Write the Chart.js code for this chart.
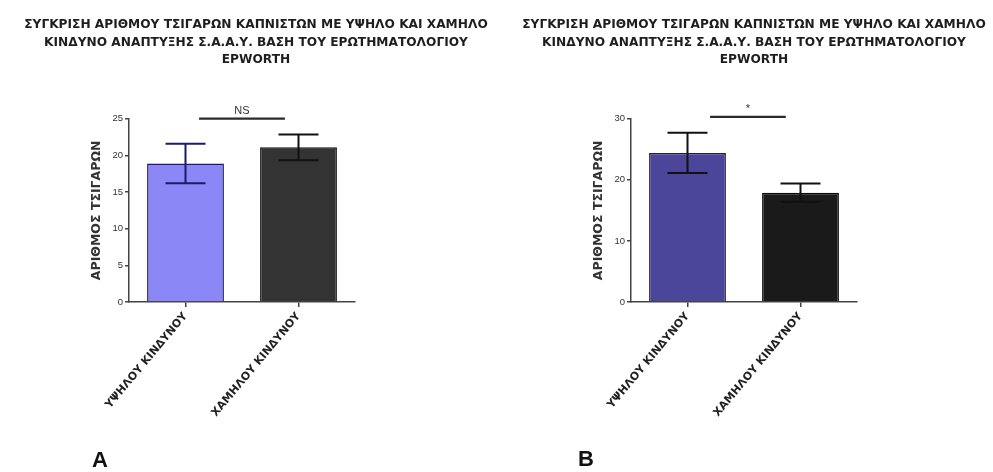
<!DOCTYPE html>
<html>
<head>
<meta charset="utf-8">
<script src="https://cdn.jsdelivr.net/npm/chart.js@4.4.1/dist/chart.umd.min.js"></script>
<style>
  html, body { margin: 0; padding: 0; background: #ffffff; }
  body { width: 993px; height: 472px; position: relative; overflow: hidden; font-family: "Liberation Sans", Arial, sans-serif; }
  .wrap { position: absolute; top: 0; height: 472px; }
  #wa { left: 8px; width: 496px; }
  #wb { left: 515px; width: 478px; }
  .panel { position: absolute; font-weight: bold; font-size: 22px; color: #111; }
  #la { left: 92px; top: 447px; }
  #lb { left: 578px; top: 446px; }
</style>
</head>
<body>
<div class="wrap" id="wa"><canvas id="ca" width="496" height="472"></canvas></div>
<div class="wrap" id="wb"><canvas id="cb" width="478" height="472"></canvas></div>
<div class="panel" id="la">A</div>
<div class="panel" id="lb">B</div>
<script>
// ---- data ----
const titleLines = [
  "ΣΥΓΚΡΙΣΗ ΑΡΙΘΜΟΥ ΤΣΙΓΑΡΩΝ ΚΑΠΝΙΣΤΩΝ ΜΕ ΥΨΗΛΟ ΚΑΙ ΧΑΜΗΛΟ",
  "ΚΙΝΔΥΝΟ ΑΝΑΠΤΥΞΗΣ Σ.Α.Α.Υ. ΒΑΣΗ ΤΟΥ ΕΡΩΤΗΜΑΤΟΛΟΓΙΟΥ",
  "EPWORTH"
];
const yTitle = "ΑΡΙΘΜΟΣ ΤΣΙΓΑΡΩΝ";
const categories = ["ΥΨΗΛΟΥ ΚΙΝΔΥΝΟΥ", "ΧΑΜΗΛΟΥ ΚΙΝΔΥΝΟΥ"];

const meansA = [18.9, 21.1];
const semA   = [2.7, 1.75];
const yMaxA = 25, yStepA = 5;
const sigLabelA = "NS";
const sigLevelA = 25;

const meansB = [24.4, 17.9];
const semB   = [3.3, 1.5];
const yMaxB = 30, yStepB = 10;
const sigLabelB = "*";
const sigLevelB = 30.3;

const FONT = '"DejaVu Sans", "Liberation Sans", Arial, sans-serif';

// ---- plugins ----
const errorBars = {
  id: 'errorBars',
  afterDatasetsDraw(chart, args, opts) {
    const ctx = chart.ctx, y = chart.scales.y;
    const meta = chart.getDatasetMeta(0);
    const ds = chart.data.datasets[0];
    ctx.save();
    meta.data.forEach((bar, i) => {
      const m = ds.data[i], e = opts.errors[i];
      const yt = y.getPixelForValue(m + e), yb = y.getPixelForValue(m - e);
      ctx.strokeStyle = opts.colors[i];
      ctx.lineWidth = 2;
      ctx.beginPath();
      ctx.moveTo(bar.x, yt); ctx.lineTo(bar.x, yb);
      ctx.moveTo(bar.x - 20, yt); ctx.lineTo(bar.x + 20, yt);
      ctx.moveTo(bar.x - 20, yb); ctx.lineTo(bar.x + 20, yb);
      ctx.stroke();
    });
    // significance bracket
    const x = chart.scales.x;
    const sy = y.getPixelForValue(opts.sigLevel);
    const x1 = x.getPixelForValue(opts.sigFrom), x2 = x.getPixelForValue(opts.sigTo);
    ctx.strokeStyle = '#2a2a2a';
    ctx.lineWidth = 2.2;
    ctx.beginPath(); ctx.moveTo(x1, sy); ctx.lineTo(x2, sy); ctx.stroke();
    ctx.fillStyle = '#333';
    ctx.font = '11px "Liberation Sans", Arial, sans-serif';
    ctx.textAlign = 'center'; ctx.textBaseline = 'bottom';
    ctx.fillText(opts.sigLabel, (x1 + x2) / 2, sy - 2);
    ctx.restore();
  }
};

function makeChart(id, means, sems, yMax, yStep, fills, borders, errColors, sig, leftW, rightW) {
  return new Chart(document.getElementById(id), {
    type: 'bar',
    data: {
      labels: categories,
      datasets: [{
        data: means,
        backgroundColor: fills,
        borderColor: borders,
        borderWidth: 1.5,
        barPercentage: 0.68,
        categoryPercentage: 1.0
      }]
    },
    options: {
      responsive: false,
      animation: false,
      layout: { padding: 0 },
      plugins: {
        legend: { display: false },
        tooltip: { enabled: false },
        title: {
          display: true,
          text: titleLines,
          color: '#1e1e1e',
          font: { family: FONT, size: 12.2, weight: 'bold', lineHeight: 1.44 },
          padding: { top: 16, bottom: 50 }
        },
        errorBars: { errors: sems, colors: errColors, sigLevel: sig.level, sigLabel: sig.label, sigFrom: sig.from, sigTo: sig.to }
      },
      scales: {
        x: {
          grid: { drawOnChartArea: false, drawTicks: true, tickLength: 5, offset: false, color: '#444', lineWidth: 1.5 },
          border: { color: '#444', width: 1.5 },
          ticks: {
            minRotation: 50, maxRotation: 50, padding: 3, color: '#222',
            font: { family: FONT, size: 11, weight: 'bold' }
          },
          afterFit(s) { s.height = 170; }
        },
        y: {
          min: 0, max: yMax,
          grid: { drawOnChartArea: false, drawTicks: true, tickLength: 4, color: '#444', lineWidth: 1.5 },
          border: { color: '#444', width: 1.5 },
          ticks: { stepSize: yStep, padding: 2, color: '#333', font: { family: '"Liberation Sans", Arial, sans-serif', size: 9.5 } },
          title: {
            display: true, text: yTitle, color: '#333',
            font: { family: FONT, size: 12.5, weight: 'bold' },
            padding: { top: leftW - 40, bottom: 0 }
          },
          afterFit(s) { s.width = leftW; }
        },
        y2: {
          position: 'right', display: true,
          grid: { display: false }, border: { display: false },
          ticks: { display: false },
          afterFit(s) { s.width = rightW; }
        }
      }
    },
    plugins: [errorBars]
  });
}

makeChart('ca', meansA, semA, yMaxA, yStepA,
  ['#8b87f7', '#333333'], ['#1d1b66', '#111111'], ['#1d1b66', '#111111'],
  { level: sigLevelA, label: sigLabelA, from: 0.12, to: 0.88 }, 121, 149);

makeChart('cb', meansB, semB, yMaxB, yStepB,
  ['#4b4699', '#1a1a1a'], ['#1f1c55', '#0a0a0a'], ['#111111', '#111111'],
  { level: sigLevelB, label: sigLabelB, from: 0.2, to: 0.87 }, 116, 136);
</script>
</body>
</html>
